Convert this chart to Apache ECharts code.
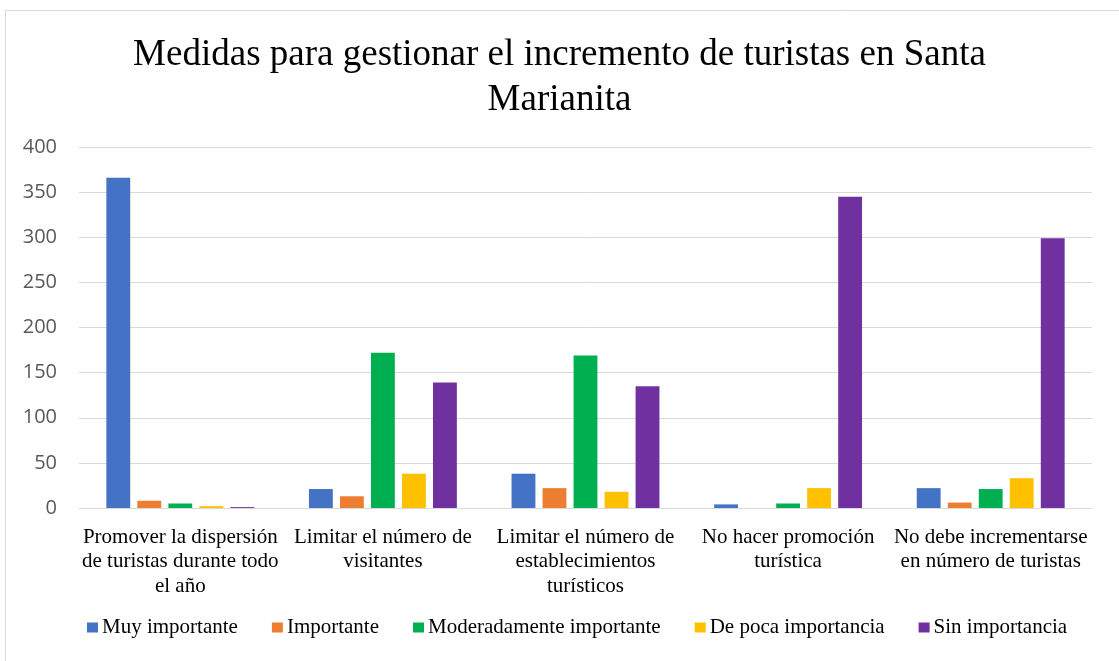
<!DOCTYPE html>
<html>
<head>
<meta charset="utf-8">
<script src="https://cdn.jsdelivr.net/npm/echarts@6/dist/echarts.min.js"></script>
<style>html,body{margin:0;padding:0;background:#fff;}#c{width:1119px;height:661px;}</style>
</head>
<body>
<div id="c"></div>
<script>
var categories = [
  "Promover la dispersión\nde turistas durante todo\nel año",
  "Limitar el número de\nvisitantes",
  "Limitar el número de\nestablecimientos\nturísticos",
  "No hacer promoción\nturística",
  "No debe incrementarse\nen número de turistas"
];
var seriesNames = ["Muy importante", "Importante", "Moderadamente importante", "De poca importancia", "Sin importancia"];
var muyImportante = [366, 21, 38, 4, 22];
var importante = [8, 13, 22, 0, 6];
var moderadamente = [5, 172, 169, 5, 21];
var dePoca = [2, 38, 18, 22, 33];
var sinImportancia = [1, 139, 135, 345, 299];
var colors = ["#4472C4", "#ED7D31", "#00B050", "#FFC000", "#7030A0"];
var values = [muyImportante, importante, moderadamente, dePoca, sinImportancia];

var chart = echarts.init(document.getElementById('c'));
var serif = "'Liberation Serif', 'DejaVu Serif', serif";
chart.setOption({
  animation: false,
  color: colors,
  graphic: [{
    type: 'rect', left: 3, top: 8, shape: {width: 1130, height: 670},
    style: {fill: 'none', stroke: '#d9d9d9', lineWidth: 1}, silent: true
  }],
  title: {
    text: 'Medidas para gestionar el incremento de turistas en Santa\nMarianita',
    left: 'center', top: 28,
    textStyle: {fontFamily: serif, fontSize: 37, fontWeight: 'normal', color: '#000', lineHeight: 45}
  },
  legend: {
    data: seriesNames, bottom: 18, left: 82, itemWidth: 11, itemHeight: 10, itemGap: 34,
    icon: 'rect',
    textStyle: {fontFamily: serif, fontSize: 21, color: '#000', padding: [0, 0, 0, -1]}
  },
  grid: {left: 79, right: 27, top: 147, bottom: 153},
  xAxis: {
    type: 'category', data: categories,
    axisLine: {show: true, lineStyle: {color: '#d9d9d9', width: 1}},
    axisTick: {show: false},
    axisLabel: {fontFamily: serif, fontSize: 21, color: '#000', lineHeight: 24.5, margin: 17, interval: 0}
  },
  yAxis: {
    type: 'value', min: 0, max: 400, interval: 50,
    axisLine: {show: false}, axisTick: {show: false},
    splitLine: {lineStyle: {color: '#d9d9d9', width: 1}},
    axisLabel: {fontFamily: "'Open Sans', 'Liberation Sans', sans-serif", fontSize: 20, color: '#595959', margin: 22}
  },
  series: seriesNames.map(function (n, i) {
    return {name: n, type: 'bar', data: values[i], barGap: '30%', barCategoryGap: '27%',
      itemStyle: {color: colors[i]}};
  })
});
</script>
</body>
</html>
